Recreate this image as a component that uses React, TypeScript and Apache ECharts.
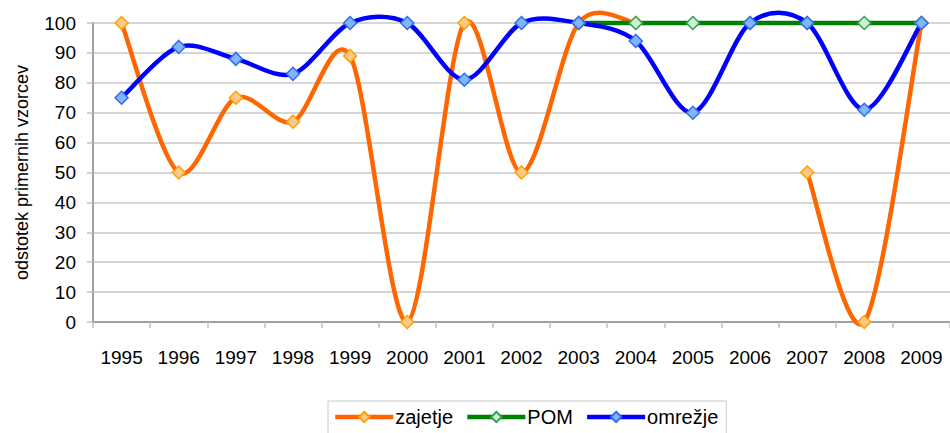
import React, { useEffect, useRef } from "react";
import * as echarts from "echarts";

const years = ["1995","1996","1997","1998","1999","2000","2001","2002","2003","2004","2005","2006","2007","2008","2009"];
const zajetje = [100, 50, 75, 67, 89, 0, 100, 50, 100, 100, null, null, 50, 0, 100];
const pom = [null, null, null, null, null, null, null, null, 100, 100, 100, 100, 100, 100, 100];
const omrezje = [75, 92, 88, 83, 100, 100, 81, 100, 100, 94, 70, 100, 100, 71, 100];
const yTicks = [0, 10, 20, 30, 40, 50, 60, 70, 80, 90, 100];

const FONT = "'Liberation Sans', Arial, sans-serif";

type Vals = (number | null)[];

function curveSeries(name: string, values: Vals, color: string, z: number) {
  return {
    name,
    type: "custom",
    z,
    clip: false,
    silent: true,
    encode: { x: 0, y: 1 },
    data: values.map((v, i) => [i, v == null ? 0 : v]),
    renderItem: (params: any, api: any) => {
      const i = params.dataIndex;
      const n = values.length;
      const empty = { type: "group", children: [] };
      if (i >= n - 1 || values[i] == null || values[i + 1] == null) return empty;
      const p1 = api.coord([i, values[i]]);
      const p2 = api.coord([i + 1, values[i + 1]]);
      const p0 = i > 0 && values[i - 1] != null ? api.coord([i - 1, values[i - 1]]) : p1;
      const p3 = i + 2 < n && values[i + 2] != null ? api.coord([i + 2, values[i + 2]]) : p2;
      const t = 6.5;
      return {
        type: "bezierCurve",
        shape: {
          x1: p1[0],
          y1: p1[1],
          cpx1: p1[0] + (p2[0] - p0[0]) / t,
          cpy1: p1[1] + (p2[1] - p0[1]) / t,
          cpx2: p2[0] - (p3[0] - p1[0]) / t,
          cpy2: p2[1] - (p3[1] - p1[1]) / t,
          x2: p2[0],
          y2: p2[1],
        },
        style: { stroke: color, lineWidth: 4.5, fill: null, lineCap: "round" },
      };
    },
  };
}

export default function App() {
  const ref = useRef<HTMLDivElement>(null);
  useEffect(() => {
    if (!ref.current) return;
    const chart = echarts.init(ref.current, undefined, { renderer: "svg" });
    const mk = (name: string, data: Vals, line: string, fill: string, border: string, z: number) => ({
      name,
      type: "line",
      data,
      z,
      clip: false,
      connectNulls: false,
      symbol: "diamond",
      symbolSize: 13,
      showAllSymbol: true,
      lineStyle: { color: line, width: 4.5, opacity: 0 },
      itemStyle: { color: fill, borderColor: border, borderWidth: 1.5 },
      emphasis: { disabled: true },
    });
    const lc = { zajetje: "#ff6600", POM: "#008000", omr: "#0000ff" };
    chart.setOption({
      animation: false,
      textStyle: { fontFamily: FONT },
      grid: { left: 93, right: 0, top: 23, bottom: 111 },
      legend: {
        left: 328,
        top: 401,
        itemWidth: 58,
        itemHeight: 13,
        itemGap: 12,
        padding: [6, 8, 8, 5],
        borderColor: "#c8c8c8",
        borderWidth: 1,
        textStyle: { fontSize: 20, color: "#000", fontFamily: FONT, padding: [0, 0, 0, -3] },
        data: [
          { name: "zajetje", lineStyle: { color: lc.zajetje, width: 4.5, opacity: 1 } },
          { name: "POM", lineStyle: { color: lc.POM, width: 4.5, opacity: 1 } },
          { name: "omrežje", lineStyle: { color: lc.omr, width: 4.5, opacity: 1 } },
        ],
      },
      xAxis: {
        type: "category",
        data: years,
        boundaryGap: true,
        axisLine: { lineStyle: { color: "#a0a0a0", width: 2 } },
        axisTick: { show: true, alignWithLabel: false, length: 6, lineStyle: { color: "#c0c0c0", width: 1.5 } },
        axisLabel: { fontSize: 19, color: "#000", margin: 26, interval: 0, fontFamily: FONT },
      },
      yAxis: {
        type: "value",
        min: 0,
        max: 100,
        interval: 10,
        name: "odstotek primernih vzorcev",
        nameLocation: "middle",
        nameGap: 62,
        nameTextStyle: { fontSize: 18, color: "#000", fontFamily: FONT },
        axisLine: { show: true, lineStyle: { color: "#a0a0a0", width: 2 } },
        axisTick: { show: true, length: 6, lineStyle: { color: "#c0c0c0", width: 1.5 } },
        axisLabel: {
          fontSize: 19,
          color: "#000",
          margin: 17,
          fontFamily: FONT,
          formatter: (v: number) => (yTicks.includes(v) ? String(v) : ""),
        },
        splitLine: { lineStyle: { color: "#c8c8c8", width: 1.5 } },
      },
      series: [
        curveSeries("zajetje-krivulja", zajetje, lc.zajetje, 2),
        curveSeries("POM-krivulja", pom, lc.POM, 3),
        curveSeries("omrežje-krivulja", omrezje, lc.omr, 4),
        mk("zajetje", zajetje, lc.zajetje, "#ffc98a", "#ffa000", 5),
        mk("POM", pom, lc.POM, "#c8f5cc", "#3a9a5c", 6),
        mk("omrežje", omrezje, lc.omr, "#82b4ff", "#2f6fe8", 7),
      ],
    });
    return () => chart.dispose();
  }, []);
  return <div ref={ref} style={{ width: 950, height: 433, position: "absolute", left: 0, top: 0 }} />;
}
